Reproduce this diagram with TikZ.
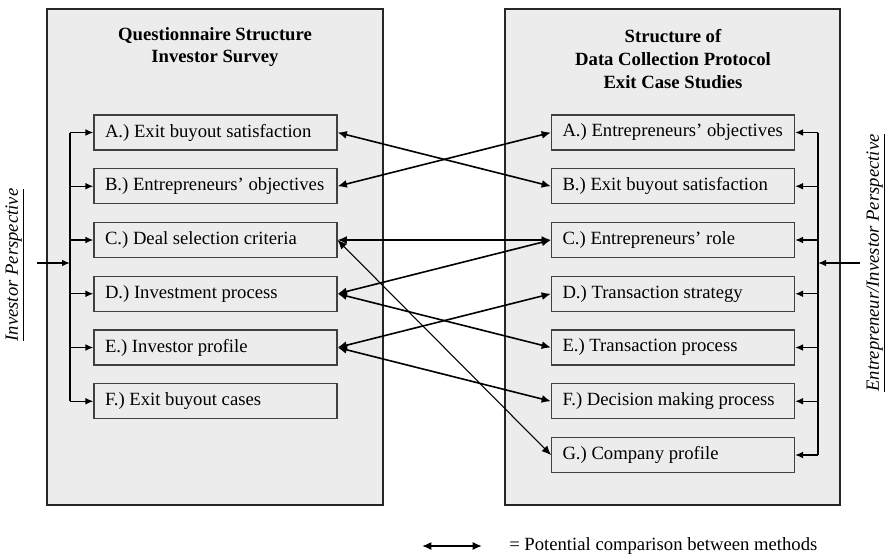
\documentclass[tikz,border=0pt]{standalone}
\usepackage{fontspec}
\setmainfont{Liberation Serif}
\usetikzlibrary{arrows.meta}
\newcommand{\itemtext}[1]{\makebox[165.75pt][l]{#1}}
\begin{document}
\begin{tikzpicture}[x=0.75pt,y=-0.75pt,
  every node/.style={font=\fontsize{14}{17}\selectfont},
  panel/.style={draw=black!85,fill=gray!15,line width=0.8pt},
  item/.style={draw=black!75,fill=gray!15,line width=0.8pt,rectangle,
    minimum height=26.25pt,inner xsep=8.25pt},
  ttl/.style={font=\fontsize{14}{17}\selectfont\bfseries,align=center},
  side/.style={font=\fontsize{14}{17}\selectfont\itshape,rotate=90},
  tip/.style={-{Latex[length=6pt,width=5pt]},line width=1.1pt},
  conn/.style={{Latex[length=7pt,width=6pt]}-{Latex[length=7pt,width=6pt]},line width=1.2pt},
  thinconn/.style={conn,line width=0.8pt},
  bus/.style={line width=1.4pt}]
\useasboundingbox (0,0) rectangle (886,557);

% panels
\draw[panel] (47,9) rectangle (383,505);
\draw[panel] (505,9) rectangle (840,505);

\node[ttl] (ltitle) at (215,47) {Questionnaire Structure\\Investor Survey};
\node[ttl] (rtitle) at (673,59) {Structure of\\Data Collection Protocol\\Exit Case Studies};

% questionnaire items
\node[item] (lA) at (215.5,132.5) {\itemtext{A.) Exit buyout satisfaction}};
\node[item] (lB) at (215.5,186.25) {\itemtext{B.) Entrepreneurs’ objectives}};
\node[item] (lC) at (215.5,240) {\itemtext{C.) Deal selection criteria}};
\node[item] (lD) at (215.5,293.75) {\itemtext{D.) Investment process}};
\node[item] (lE) at (215.5,347.5) {\itemtext{E.) Investor profile}};
\node[item] (lF) at (215.5,401.25) {\itemtext{F.) Exit buyout cases}};

% protocol items
\node[item] (rA) at (673,132.5) {\itemtext{A.) Entrepreneurs’ objectives}};
\node[item] (rB) at (673,186.25) {\itemtext{B.) Exit buyout satisfaction}};
\node[item] (rC) at (673,240) {\itemtext{C.) Entrepreneurs’ role}};
\node[item] (rD) at (673,293.75) {\itemtext{D.) Transaction strategy}};
\node[item] (rE) at (673,347.5) {\itemtext{E.) Transaction process}};
\node[item] (rF) at (673,401.25) {\itemtext{F.) Decision making process}};
\node[item] (rG) at (673,455) {\itemtext{G.) Company profile}};

% left distribution bus
\coordinate (lbus) at (70,0);
\coordinate (lin) at (37,263);
\draw[bus] (lbus |- lA) -- (lbus |- lF);
\foreach \n in {lA,lB,lC,lD,lE,lF}
  \draw[tip] (lbus |- \n) -- (\n.west);
\draw[tip] (lin) -- (lin -| lbus);

% right distribution bus
\coordinate (rbus) at (818,0);
\coordinate (rin) at (860,263);
\draw[bus] (rbus |- rA) -- (rbus |- rG);
\foreach \n in {rA,rB,rC,rD,rE,rF,rG}
  \draw[tip] (rbus |- \n) -- (\n.east);
\draw[tip] (rin) -- (rin -| rbus);

% side labels
\node[side] (lper) at (15,265) {\underline{Investor Perspective}};
\node[side] (rper) at (876,263) {\underline{Entrepreneur/Investor Perspective}};

% comparisons between methods
\draw[conn] (lA.east) -- (rB.west);
\draw[conn] (lB.east) -- (rA.west);
\draw[conn] (lC.east) -- (rC.west);
\draw[thinconn] (lC.east) -- (rG.west);
\draw[conn] (lD.east) -- (rC.west);
\draw[conn] (lD.east) -- (rE.west);
\draw[conn] (lE.east) -- (rD.west);
\draw[conn] (lE.east) -- (rF.west);

% legend
\coordinate (leg1) at (422,546);
\coordinate (leg2) at (482,546);
\draw[conn] (leg1) -- (leg2);
\node[anchor=west,inner sep=0pt] (legtxt) at (509,546) {= Potential comparison between methods};
\end{tikzpicture}
\end{document}
